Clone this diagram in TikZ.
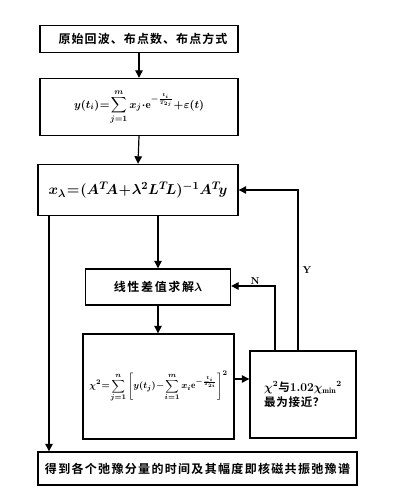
\documentclass[tikz,border=0pt]{standalone}
\usepackage{amsmath}
\usepackage{fontspec}
\newfontfamily\cjk{Noto Sans CJK SC Bold}
\usetikzlibrary{arrows.meta}
\newcommand\tightm{\thickmuskip=1mu plus 1mu\medmuskip=0.5mu}
\newcommand\fmA{$\tightm y(t_i)=\displaystyle\sum_{j=1}^{m}x_j\cdot \mathrm{e}^{-\frac{t_i}{T_{2j}}}+\varepsilon(t)$}
\newcommand\fmB{$\tightm x_\lambda=(A^T\!A+\lambda^2L^T\!L)^{-1}A^T\!y$}
\newcommand\fmC{$\tightm\chi^2=\displaystyle\sum_{j=1}^{n}\Bigg[y(t_j)-\sum_{i=1}^{m}x_i\mathrm{e}^{-\frac{t_i}{T_{2i}}}\Bigg]^2$}
\newcommand\fmD{$\chi^2$}
\newcommand\fmE{$1.02\chi_{\min}{}^2$}
\newcommand\fmL{$\lambda$}
\begin{document}
\boldmath
\begin{tikzpicture}[x=1pt,y=-1pt,
  box/.style={draw,line width=1.4pt,inner sep=0pt},
  conn/.style={line width=1.2pt,-{Triangle[length=7.5pt,width=7.5pt]}},
  lbl/.style={font=\bfseries\fontsize{10}{12}\selectfont}]
\useasboundingbox (0,0) rectangle (415,498);
\node[box,minimum width=198,minimum height=27] (b1) at (139,39)
  {\cjk\addfontfeature{LetterSpace=9}\fontsize{12}{14}\selectfont\hspace{8pt}原始回波、布点数、布点方式};
\node[box,minimum width=198,minimum height=57,font=\fontsize{11}{13}\selectfont] (b2) at (139,107) {\fmA};
\node[box,minimum width=200,minimum height=51,font=\fontsize{15.5}{18}\selectfont] (b3) at (138,190) {\fmB};
\node[box,minimum width=145,minimum height=36] (b4) at (158,287)
  {\cjk\addfontfeature{LetterSpace=14}\fontsize{12}{14}\selectfont 线性差值求解\fmL};
\node[box,minimum width=151,minimum height=105,font=\fontsize{9.5}{12}\selectfont] (b5) at (158.5,386.5) {\fmC};
\node[box,minimum width=106,minimum height=87,align=left,font=\cjk\fontsize{11.5}{15}\selectfont] (b6) at (303,394.5)
  {\fmD 与\fmE\\ {\addfontfeature{LetterSpace=6}最为接近？}};
\node[box,minimum width=319,minimum height=33] (b7) at (197.5,468.5)
  {\cjk\addfontfeature{LetterSpace=11}\fontsize{12}{14}\selectfont 得到各个弛豫分量的时间及其幅度即核磁共振弛豫谱};
\draw[conn] (b1.south) -- (b2.north);
\draw[conn] (b2.south) -- (b3.north);
\draw[conn] (b3.south -| b4.north) -- (b4.north);
\draw[conn] (b4.south) -- (b5.north -| b4.south);
\coordinate (mr) at (0,379);
\draw[conn] (b5.east |- mr) -- (b6.west |- mr);
\coordinate (lx) at (49,0);
\draw[conn] (b3.south -| lx) -- (b7.north -| lx);
\coordinate (nc) at (275,286);
\coordinate (yc) at (298,190);
\draw[conn] (b6.north -| nc) -- (nc) -- (b4.east |- nc);
\draw[conn] (b6.north -| yc) -- (yc) -- (b3.east |- yc);
\node[lbl] (nl) at (255,281) {N};
\node[lbl] (yl) at (307,270) {Y};
\end{tikzpicture}
\end{document}
